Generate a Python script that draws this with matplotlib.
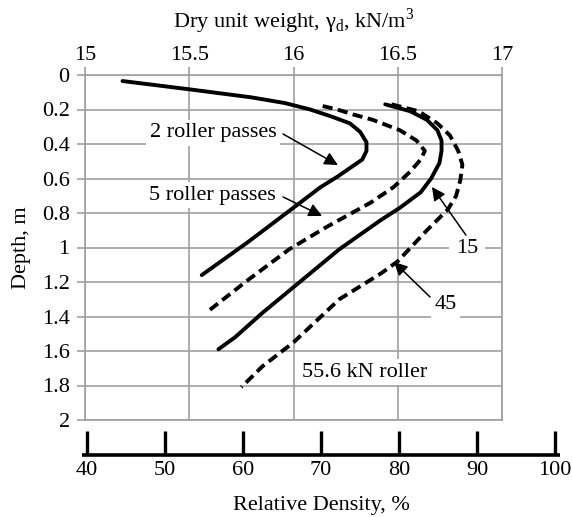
import matplotlib
matplotlib.use("Agg")
from matplotlib import pyplot as plt

plt.rcParams['font.family'] = ['Liberation Serif', 'DejaVu Serif']
plt.rcParams['mathtext.fontset'] = 'custom'
plt.rcParams['mathtext.rm'] = 'Liberation Serif'

# dry unit weight (kN/m3) vs depth (m)
gd_2 = [15.18, 15.50, 15.80, 15.96, 16.08, 16.18, 16.27, 16.32, 16.35, 16.35, 16.33, 16.27, 16.21, 16.13, 16.01, 15.78, 15.56]
z_2 = [0.035, 0.083, 0.13, 0.163, 0.20, 0.24, 0.28, 0.33, 0.39, 0.44, 0.49, 0.54, 0.59, 0.65, 0.76, 0.97, 1.16]

gd_5 = [16.14, 16.21, 16.29, 16.38, 16.51, 16.59, 16.63, 16.61, 16.56, 16.48, 16.37, 16.16, 15.98, 15.78, 15.59]
z_5 = [0.18, 0.20, 0.23, 0.26, 0.32, 0.38, 0.44, 0.49, 0.56, 0.65, 0.74, 0.88, 1.01, 1.19, 1.37]

gd_15 = [16.44, 16.56, 16.64, 16.69, 16.71, 16.71, 16.70, 16.66, 16.61, 16.51, 16.42, 16.22, 16.02, 15.85, 15.72, 15.64]
z_15 = [0.17, 0.21, 0.26, 0.32, 0.38, 0.44, 0.51, 0.60, 0.68, 0.77, 0.84, 1.01, 1.21, 1.38, 1.52, 1.59]

gd_45 = [16.47, 16.60, 16.69, 16.75, 16.79, 16.81, 16.80, 16.78, 16.74, 16.64, 16.50, 16.42, 16.22, 16.00, 15.85, 15.75]
z_45 = [0.17, 0.21, 0.28, 0.35, 0.44, 0.52, 0.61, 0.70, 0.78, 0.90, 1.08, 1.15, 1.30, 1.55, 1.69, 1.81]

gd_ticks = [15, 15.5, 16, 16.5, 17]
depth_ticks = [0, 0.2, 0.4, 0.6, 0.8, 1, 1.2, 1.4, 1.6, 1.8, 2]
depth_labels = ['0', '0.2', '0.4', '0.6', '0.8', '1', '1.2', '1.4', '1.6', '1.8', '2']
dr_ticks = [40, 50, 60, 70, 80, 90, 100]

W, H = 572, 517
fig = plt.figure(figsize=(W / 100, H / 100), dpi=100)
ax = fig.add_axes([85 / W, 1 - 420 / H, 417 / W, 345 / H])

grey = '#a0a0a0'
fs = 16

ax.plot(gd_2, z_2, color='black', lw=2.8, solid_capstyle='round', solid_joinstyle='round', zorder=3)
ax.plot(gd_5, z_5, color='black', lw=2.8, dashes=(2.6, 1.4), zorder=3)
ax.plot(gd_15, z_15, color='black', lw=2.8, solid_capstyle='round', solid_joinstyle='round', zorder=3)
ax.plot(gd_45, z_45, color='black', lw=2.8, dashes=(2.6, 1.4), zorder=3)

ax.set_xlim(15, 17)
ax.set_ylim(2, 0)
ax.set_xticks(gd_ticks)
ax.set_xticklabels(['15', '15.5', '16', '16.5', '17'])
ax.set_yticks(depth_ticks)
ax.set_yticklabels(depth_labels)
ax.xaxis.tick_top()
ax.xaxis.set_label_position('top')
ax.tick_params(axis='both', labelsize=fs, color=grey, length=6, width=1.2)
ax.tick_params(axis='x', pad=1.5)
ax.tick_params(axis='y', pad=5)
ax.grid(True, color=grey, lw=1.2, zorder=0)
for s in ax.spines.values():
    s.set_color(grey)
    s.set_linewidth(1.2)

ax.set_xlabel(r'Dry unit weight, γ$_\mathrm{d}$, kN/m$^3$', fontsize=fs, labelpad=13)
ax.set_ylabel('Depth, m', fontsize=fs, labelpad=8)

box = dict(boxstyle='square,pad=0.15', fc='white', ec='none')
arw = dict(arrowstyle='-|>', color='black', lw=1.1, mutation_scale=20, shrinkA=0, shrinkB=0)

ax.text(15.614, 0.336, '2 roller passes', fontsize=fs, ha='center', va='center', bbox=box, zorder=4)
ax.annotate('', xy=(16.213, 0.522), xytext=(15.95, 0.342), arrowprops=arw, zorder=4)
ax.text(15.609, 0.696, '5 roller passes', fontsize=fs, ha='center', va='center', bbox=box, zorder=4)
ax.annotate('', xy=(16.137, 0.817), xytext=(15.95, 0.707), arrowprops=arw, zorder=4)
ax.text(16.832, 1.003, '15', fontsize=fs, ha='center', va='center',
        bbox=dict(boxstyle='square,pad=0.3', fc='white', ec='none'), zorder=4)
ax.annotate('', xy=(16.664, 0.649), xytext=(16.827, 0.928), arrowprops=arw, zorder=4)
ax.text(16.731, 1.333, '45', fontsize=fs, ha='center', va='center', bbox=box, zorder=4)
ax.annotate('', xy=(16.482, 1.084), xytext=(16.655, 1.287), arrowprops=arw, zorder=4)
ax.text(16.041, 1.722, '55.6 kN roller', fontsize=fs, ha='left', va='center', bbox=box, zorder=4)

# relative density scale underneath
ax2 = fig.add_axes([82 / W, 1 - 455 / H, 478 / W, 0.0001])
ax2.set_xlim(40 - 5 / 7.8, 100 + 5 / 7.8)
ax2.set_xticks(dr_ticks)
ax2.set_xticklabels([str(t) for t in dr_ticks])
ax2.set_yticks([])
for s in ['left', 'right', 'top']:
    ax2.spines[s].set_visible(False)
ax2.spines['bottom'].set_linewidth(2.6)
ax2.spines['bottom'].set_capstyle('butt')
ax2.patch.set_visible(False)
ax2.tick_params(axis='x', direction='in', length=17, width=2.4, labelsize=fs, pad=4, color='black')
ax2.set_xlabel('Relative Density, %', fontsize=fs, labelpad=12)

fig.savefig('out.png', dpi=100)
